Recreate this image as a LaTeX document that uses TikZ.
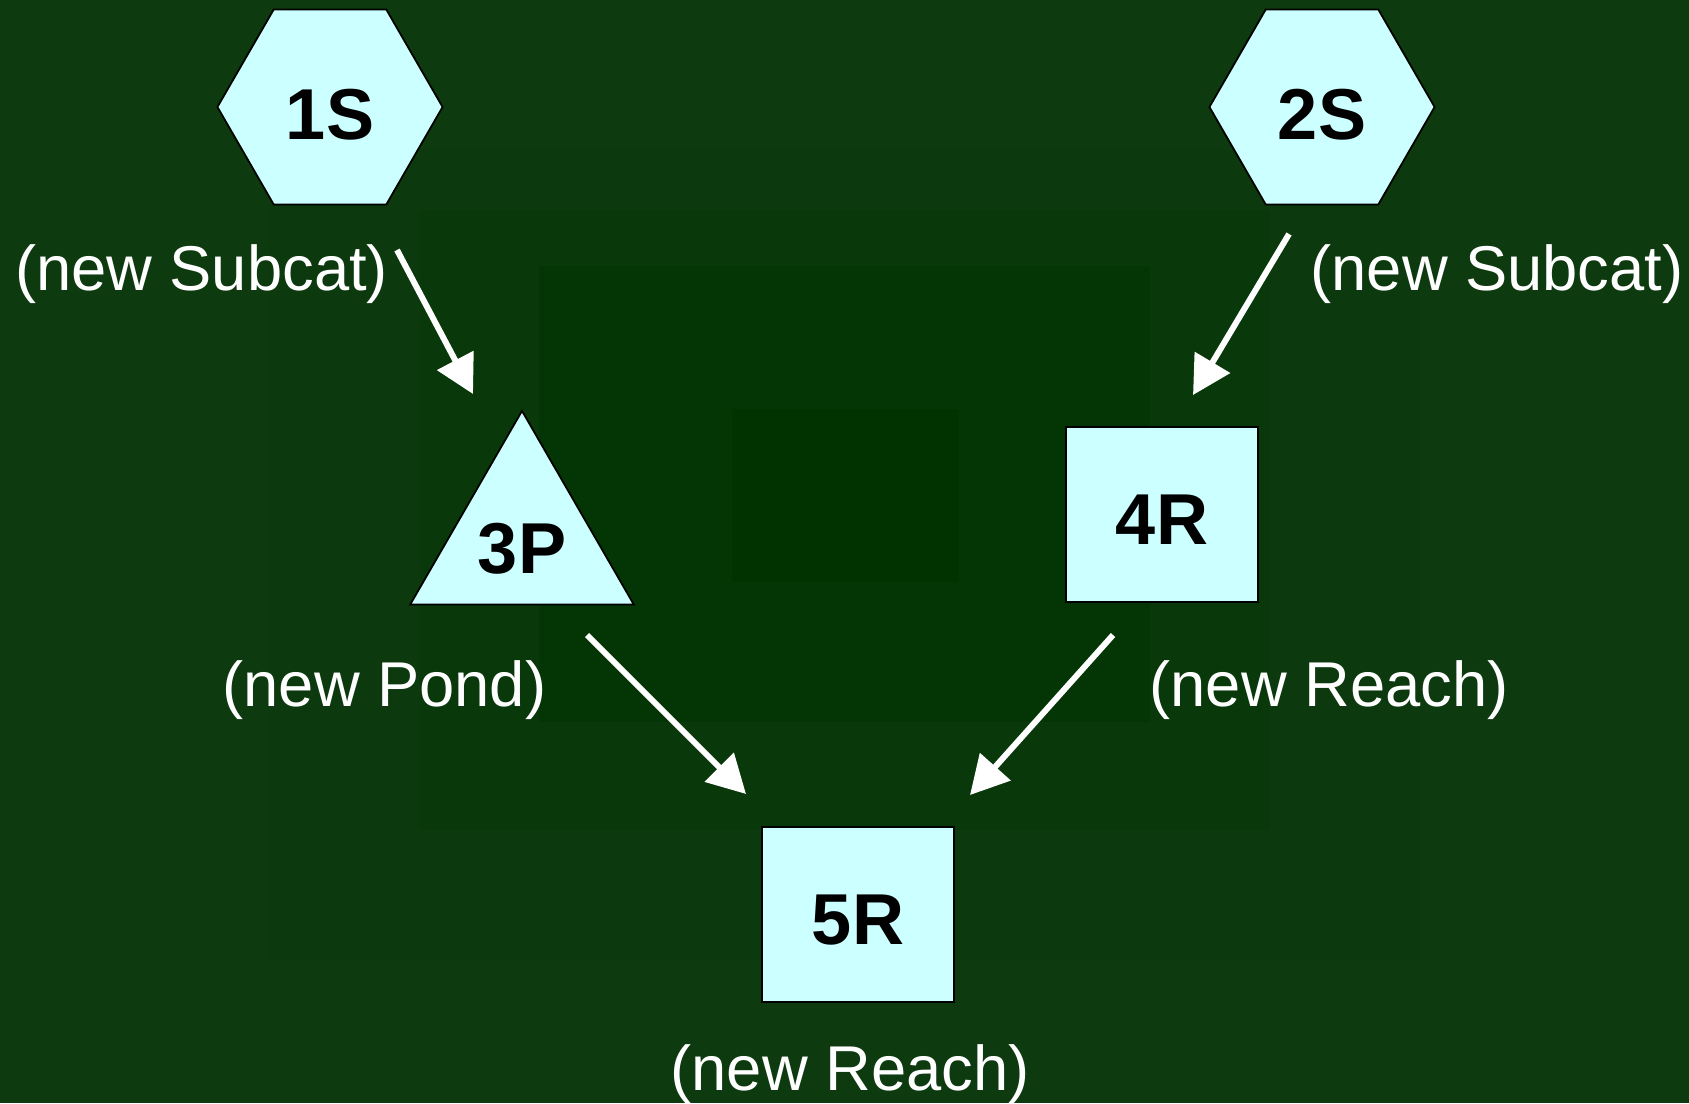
\documentclass[tikz,border=0pt]{standalone}
\usepackage{fontspec}
\setmainfont{Liberation Sans}
\usetikzlibrary{shapes.geometric,arrows.meta}
\definecolor{bgA}{RGB}{14,58,16}
\definecolor{bgB}{RGB}{12,57,14}
\definecolor{bgC}{RGB}{9,56,11}
\definecolor{bgD}{RGB}{3,53,5}
\definecolor{bgE}{RGB}{0,51,0}
\definecolor{nodefill}{RGB}{204,255,255}
\tikzset{
  shapebox/.style={draw=black, line width=0.5pt, fill=nodefill, inner sep=0pt,
    font=\fontsize{20.5}{24}\selectfont\bfseries, text=black},
  hexa/.style={shapebox, regular polygon, regular polygon sides=6, minimum size=2.25cm,
    text height=0.64cm, text depth=0cm},
  tri/.style={shapebox, regular polygon, regular polygon sides=3, minimum size=2.58cm,
    text height=0.66cm, text depth=0cm},
  sqbox/.style={shapebox, rectangle, minimum width=1.92cm, minimum height=1.75cm,
    text height=0.59cm, text depth=0cm},
  lbl/.style={text=white, anchor=base, inner sep=0pt, font=\fontsize{18}{22}\selectfont},
  flow/.style={draw=white, line width=1.7pt, -{Triangle[length=0.38cm,width=0.40cm]}}
}
\begin{document}
\begin{tikzpicture}[x=0.01cm,y=-0.01cm]
\useasboundingbox (0,0) rectangle (1689,1103);
% background bands
\fill[bgA] (0,0) rectangle (1689,1103);
\fill[bgB] (270,150) rectangle (1420,960);
\fill[bgC] (420,210) rectangle (1270,830);
\fill[bgD] (539,266) rectangle (1150,722);
\fill[bgE] (732,409) rectangle (959,582);
% nodes
\node[hexa] (n1) at (330,107) {1S};
\node[hexa] (n2) at (1322,107) {2S};
\node[tri] (n3) at (522,540) {3P};
\node[sqbox] (n4) at (1162,514.5) {4R};
\node[sqbox] (n5) at (858,914.5) {5R};
% labels
\node[lbl] (l1) at (201.5,290) {(new Subcat)};
\node[lbl] (l2) at (1497,290) {(new Subcat)};
\node[lbl] (l3) at (384.5,706) {(new Pond)};
\node[lbl] (l4) at (1329,706) {(new Reach)};
\node[lbl] (l5) at (850,1090) {(new Reach)};
% connector end points
\coordinate (a1s) at (397,250);
\coordinate (a1e) at (473,394);
\coordinate (a2s) at (1289,234);
\coordinate (a2e) at (1193,395);
\coordinate (a3s) at (587,635);
\coordinate (a3e) at (746,794);
\coordinate (a4s) at (1113,635);
\coordinate (a4e) at (970,795);
\draw[flow] (a1s) -- (a1e);
\draw[flow] (a2s) -- (a2e);
\draw[flow] (a3s) -- (a3e);
\draw[flow] (a4s) -- (a4e);
\end{tikzpicture}
\end{document}
